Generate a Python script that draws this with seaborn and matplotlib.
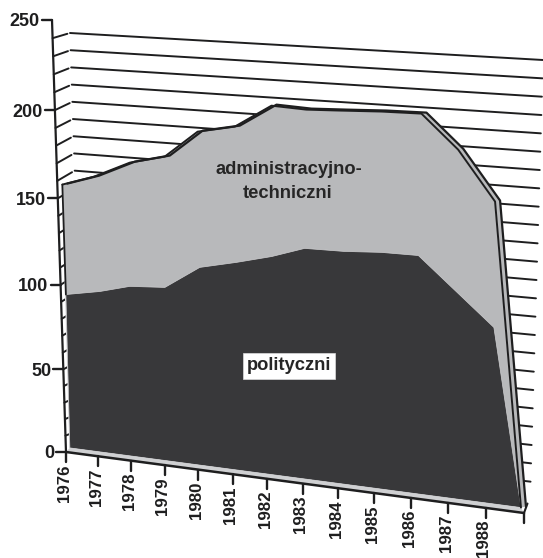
import numpy as np
import matplotlib
matplotlib.use("Agg")
import matplotlib.pyplot as plt
import seaborn as sns

years = ['1976', '1977', '1978', '1979', '1980', '1981', '1982', '1983', '1984', '1985', '1986', '1987', '1988']
y_ticks = [0, 50, 100, 150, 200, 250]
grid_values = list(range(10, 250, 10))

# total (administracyjno-techniczni + polityczni)
total_pos = [0, 1.03, 2.18, 3.28, 4.33, 5.47, 6.61, 7.64, 8.66, 9.81, 10.95, 11.90, 12.80, 12.80]
total_val = [157.9, 164.0, 173.6, 178.6, 193.8, 198.1, 210.9, 210.1, 210.9, 211.9, 212.3, 194.8, 169.0, 2.5]

# polityczni
polit_pos = [0, 1.08, 2.02, 3.10, 4.19, 5.30, 6.35, 7.33, 8.47, 9.52, 10.56, 12.48, 12.80]
polit_val = [94.3, 98.2, 103.0, 104.5, 118.0, 122.9, 128.1, 134.4, 134.8, 136.2, 136.4, 101.3, 2.5]

BLACK = '#1e1e1f'
DARK = '#38383a'
LIGHT = '#b8b9bb'
AREA_SHIFT = np.array([5.0, 0.0])
BACK_SHIFT = np.array([5.0, -1.0])
FLOOR = 2.5


def bilinear(a, b, c, d, s, t):
    return (1 - s) * (1 - t) * np.array(a) + s * (1 - t) * np.array(b) + (1 - s) * t * np.array(c) + s * t * np.array(d)


# front plane of the drawing, the picture is skewed and slightly stretched
def front(u, v):
    w = u / 13
    r = v / 250
    return bilinear((66, 452), (524, 513), (52, 20), (484, 45), w * (0.912 + 0.088 * w), r * (0.946 + 0.054 * r))


# back wall, where the grid lines are
def wall(u, v):
    return bilinear((84, 446), (530, 500), (70, 33), (543, 60), u / 13, v / 240)


def line(pts, lw=1.5, color=BLACK, z=5):
    pts = np.array(pts)
    sns.lineplot(x=pts[:, 0], y=pts[:, 1], sort=False, estimator=None, errorbar=None,
                 color=color, linewidth=lw, zorder=z, ax=ax, legend=False)


sns.set_theme(style='white')
plt.rcParams['font.family'] = ['Liberation Sans', 'DejaVu Sans']

fig = plt.figure(figsize=(5.43, 5.58), dpi=100)
ax = fig.add_axes([0, 0, 1, 1])
ax.set_xlim(0, 543)
ax.set_ylim(558, 0)
ax.axis('off')

# grid on the wall and the short depth lines going to the axis
for v in grid_values:
    line([wall(0, v), wall(13, v)], lw=1.4, z=1)
    start = front(0, v)
    line([start, start + 0.85 * (wall(0, v) - start)], lw=1.4, z=1)

corner = front(0, FLOOR) + [4, 0]
total = np.array([front(u, v) + AREA_SHIFT for u, v in zip(total_pos, total_val)])
polit = np.array([front(u, v) + AREA_SHIFT for u, v in zip(polit_pos, polit_val)])
total_closed = np.vstack([total, corner])
polit_closed = np.vstack([polit, corner])

# light strip along the top, gives the depth of the area
back = total + BACK_SHIFT
ax.fill(np.r_[total[:, 0], back[::-1, 0]], np.r_[total[:, 1], back[::-1, 1]], color=LIGHT, lw=0, zorder=2)

# the two areas
ax.fill(total_closed[:, 0], total_closed[:, 1], facecolor=LIGHT, edgecolor='#e4e4e6', lw=0.8, zorder=3)
ax.fill(polit_closed[:, 0], polit_closed[:, 1], facecolor=DARK, edgecolor='#cfcfd1', lw=0.5, zorder=4)

# floor strip
poly = np.array([front(0, 0), front(13, 0), total[-1], corner])
ax.fill(poly[:, 0], poly[:, 1], color='#cfd0d2', lw=0, zorder=4)

# outlines
line(total, lw=1.4)
line([total[0], polit[0]], lw=1.3)
line(back, lw=1.6)
line([front(0, 0), front(0, 250)], lw=1.6)
line([front(0, 0), front(13, 0)], lw=1.8)
line([front(13, 0), back[-1] + [1.5, -3]], lw=1.5)

# y axis ticks
for v in y_ticks:
    p = front(0, v)
    line([p, p - [10, 0]], lw=1.7)
    ax.text(p[0] - 12, p[1], str(v), ha='right', va='center_baseline', fontsize=13,
            fontweight='bold', color=BLACK, zorder=6)

# year ticks, the last one has no label
for u in range(14):
    p = front(u, 0)
    line([p, p + [0, 10]], lw=1.7)
    if u < len(years):
        ax.text(p[0] - 2, p[1] + 12, years[u], rotation=90, ha='center', va='top', fontsize=12.2,
                fontweight='bold', color=BLACK, zorder=6)

ax.text(289, 170, 'administracyjno-', ha='center', va='center', fontsize=13.2,
        fontweight='bold', color='#262626', zorder=6)
ax.text(288, 194, 'techniczni', ha='center', va='center', fontsize=13.2,
        fontweight='bold', color='#262626', zorder=6)
ax.text(289, 366, 'polityczni', ha='center', va='center', fontsize=13.2, fontweight='bold', color='#262626',
        zorder=6, bbox=dict(facecolor='white', edgecolor='#dddddd', linewidth=0.5, boxstyle='square,pad=0.22'))

fig.savefig('out.png', dpi=100)
